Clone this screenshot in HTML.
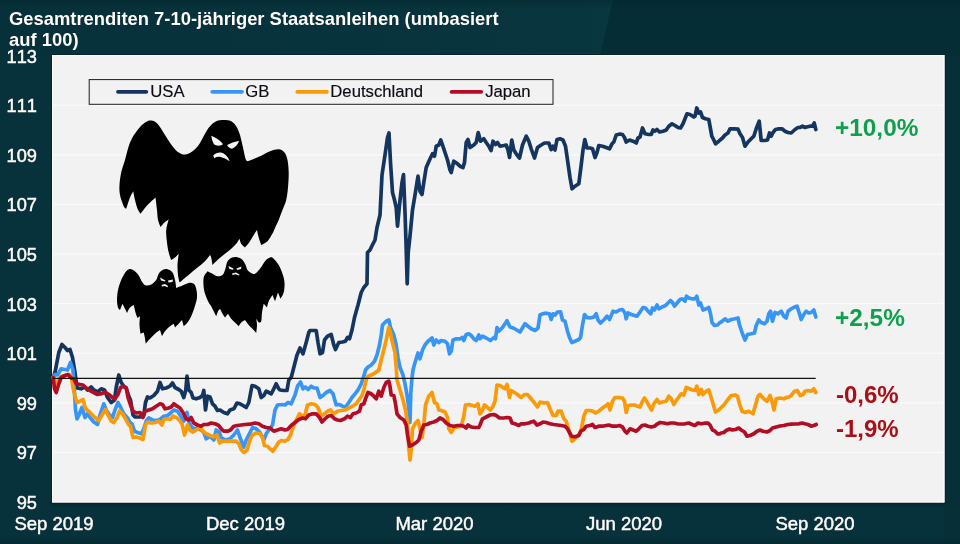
<!DOCTYPE html>
<html lang="de"><head><meta charset="utf-8"><title>Gesamtrenditen 7-10-jähriger Staatsanleihen</title>
<style>
html,body{margin:0;padding:0;background:#08303a;}
body{width:960px;height:544px;overflow:hidden;position:relative;font-family:"Liberation Sans",Arial,sans-serif;}
#bg{position:absolute;left:0;top:0;width:960px;height:544px;background:#07323b;}
svg{position:absolute;left:0;top:0;}
svg text{font-family:"Liberation Sans",Arial,sans-serif;font-kerning:none;}
.ttl{font-size:18.4px;font-weight:bold;fill:#fff;}
.sh{filter:drop-shadow(0.6px 0.8px 0.7px rgba(0,10,14,0.9));}
.ax{font-size:18.5px;fill:#fff;stroke:#fff;stroke-width:0.5px;font-kerning:none;}
.ay{font-size:18.2px;}
.lg{font-size:16.7px;fill:#0c0c14;stroke:#0c0c14;stroke-width:0.15px;}
.pc{font-size:24.4px;font-weight:bold;font-kerning:none;}
</style></head><body>
<div id="bg"></div>
<svg width="960" height="544" viewBox="0 0 960 544">
<defs>
<linearGradient id="gtl" x1="0" y1="0" x2="1" y2="0"><stop offset="0" stop-color="#07313a"/><stop offset="0.75" stop-color="#08343d"/><stop offset="1" stop-color="#08373f"/></linearGradient>
<linearGradient id="gtop" x1="0" y1="0" x2="0" y2="1"><stop offset="0" stop-color="#03262d" stop-opacity="0.55"/><stop offset="1" stop-color="#03262d" stop-opacity="0"/></linearGradient>
<linearGradient id="gbot" x1="0" y1="0" x2="0" y2="1"><stop offset="0" stop-color="#02232a" stop-opacity="0.8"/><stop offset="1" stop-color="#02232a" stop-opacity="0"/></linearGradient>
<linearGradient id="gbot2" x1="0" y1="0" x2="0" y2="1"><stop offset="0" stop-color="#03262d" stop-opacity="0"/><stop offset="1" stop-color="#03262d" stop-opacity="0.6"/></linearGradient>
</defs>
<polygon points="0,0 613,0 600,56 0,56" fill="url(#gtl)"/>
<polygon points="613,0 960,0 960,56 600,56" fill="#052d35"/>
<rect x="944" y="56" width="16" height="488" fill="#062f38"/>
<rect x="0" y="0" width="960" height="9" fill="url(#gtop)"/>
<rect x="50" y="502" width="896" height="5" fill="url(#gbot)"/>
<rect x="0" y="536" width="960" height="8" fill="url(#gbot2)"/>
<rect x="51" y="54" width="894.5" height="449.5" fill="#03252c"/>
<rect x="52" y="55" width="892.5" height="447.5" fill="#f2f2f2"/>
<line x1="52" x2="944" y1="452.45" y2="452.45" stroke="#fcfcfc" stroke-width="1"/><line x1="52" x2="944" y1="402.85" y2="402.85" stroke="#fcfcfc" stroke-width="1"/><line x1="52" x2="944" y1="353.25" y2="353.25" stroke="#fcfcfc" stroke-width="1"/><line x1="52" x2="944" y1="303.65" y2="303.65" stroke="#fcfcfc" stroke-width="1"/><line x1="52" x2="944" y1="254.05" y2="254.05" stroke="#fcfcfc" stroke-width="1"/><line x1="52" x2="944" y1="204.45" y2="204.45" stroke="#fcfcfc" stroke-width="1"/><line x1="52" x2="944" y1="154.85" y2="154.85" stroke="#fcfcfc" stroke-width="1"/><line x1="52" x2="944" y1="105.25" y2="105.25" stroke="#fcfcfc" stroke-width="1"/>
<rect x="52.5" y="55.5" width="891.5" height="446.5" fill="none" stroke="#fff" stroke-width="1"/>
<rect x="89.2" y="79.6" width="463.8" height="24.7" fill="#f2f2f2" stroke="#1c1c1c" stroke-width="1"/>
<g stroke-width="3.8" stroke-linecap="round">
<line x1="118" x2="146.3" y1="91.8" y2="91.8" stroke="#14355f"/>
<line x1="212.3" x2="242" y1="91.8" y2="91.8" stroke="#3796f5"/>
<line x1="297.3" x2="327" y1="91.8" y2="91.8" stroke="#fb9a08"/>
<line x1="451.6" x2="481.2" y1="91.8" y2="91.8" stroke="#b30d26"/>
</g>
<text x="150.3" y="97.2" class="lg">USA</text>
<text x="245.3" y="97.2" class="lg">GB</text>
<text x="330.3" y="97.2" class="lg">Deutschland</text>
<text x="485.2" y="97.2" class="lg">Japan</text>
<path d="M151.2,120.5 C153.3,120.7 155.2,121.3 157.5,123.7 C159.8,126.1 162.5,131.2 165.0,135.0 C167.5,138.8 170.2,143.3 172.5,146.2 C174.8,149.1 176.6,151.1 178.7,152.5 C180.8,153.9 182.7,154.7 185.0,154.5 C187.3,154.3 190.2,152.8 192.5,151.2 C194.8,149.6 196.6,147.9 198.7,145.0 C200.8,142.1 203.1,136.8 205.0,133.7 C206.9,130.6 208.1,128.3 210.0,126.2 C211.9,124.1 213.9,122.2 216.2,121.2 C218.5,120.2 221.2,120.0 223.7,120.0 C226.2,120.0 229.1,120.2 231.2,121.2 C233.3,122.2 234.7,123.9 236.2,126.2 C237.7,128.5 238.9,131.4 240.0,135.0 C241.1,138.6 242.1,143.6 243.0,147.5 C243.9,151.4 244.8,156.4 245.5,158.7 C246.2,161.0 247.1,160.7 247.5,161.2 C250.0,160.2 256.2,157.9 260.0,156.2 C263.8,154.5 266.9,152.4 270.0,151.2 C273.1,150.0 276.3,149.0 278.7,149.2 C281.1,149.4 283.0,150.7 284.5,152.5 C286.0,154.3 286.8,156.7 287.5,160.0 C288.2,163.3 288.6,167.9 288.7,172.5 C288.8,177.1 288.4,182.9 288.0,187.5 C287.6,192.1 287.1,196.2 286.2,200.0 C285.3,203.8 283.8,206.7 282.5,210.0 C281.2,213.3 279.9,217.0 278.7,220.0 C277.4,223.0 276.0,225.8 275.0,228.0 C274.0,230.2 273.8,231.3 272.5,233.5 C271.2,235.7 269.4,239.3 267.5,241.2 C265.6,243.1 262.5,244.2 261.2,245.0 C260.7,243.5 259.4,240.0 258.7,237.5 C258.0,235.0 257.3,231.5 257.0,230.0 C256.3,231.0 254.9,233.1 253.7,235.0 C252.5,236.9 251.4,239.1 250.0,241.2 C248.6,243.3 246.0,246.2 245.0,247.5 C244.2,246.7 242.1,245.2 241.2,243.7 C240.3,242.2 239.8,239.7 239.5,238.7 C238.8,239.7 237.6,242.0 236.2,243.7 C234.8,245.4 233.1,247.0 231.2,248.7 C229.3,250.4 227.3,251.8 225.0,253.7 C222.7,255.6 219.6,258.1 217.5,260.0 C215.4,261.9 213.5,264.0 212.5,265.0 C212.2,263.5 211.6,259.2 211.2,257.5 C210.8,255.8 210.2,255.5 210.0,255.0 C209.0,256.2 207.1,259.1 205.0,261.2 C202.9,263.3 200.0,265.4 197.5,267.5 C195.0,269.6 192.5,271.6 190.0,273.7 C187.5,275.8 184.2,278.5 182.5,280.0 C180.8,281.5 180.1,282.0 179.5,282.5 C179.2,281.0 178.3,277.9 178.0,275.0 C177.7,272.1 177.4,268.6 177.5,265.0 C177.6,261.4 178.5,256.0 178.7,253.7 C178.0,254.5 176.2,256.4 175.0,257.5 C173.8,258.6 172.0,259.5 171.2,260.0 C170.7,258.5 169.4,255.4 168.7,252.5 C168.0,249.6 167.4,246.2 167.0,242.5 C166.6,238.8 165.9,233.9 166.2,230.0 C166.5,226.1 168.2,221.4 168.7,219.2 C167.9,219.9 165.9,221.2 164.5,222.5 C163.1,223.8 161.3,226.1 160.5,227.0 C160.0,225.6 158.6,222.8 158.0,220.0 C157.4,217.2 157.4,213.8 157.0,210.0 C156.6,206.2 155.8,200.0 155.5,197.5 C153.9,199.0 150.0,202.3 147.5,205.0 C145.0,207.7 141.9,212.0 140.5,213.7 C139.9,212.7 138.4,211.0 137.5,208.7 C136.6,206.4 135.7,202.9 135.0,200.0 C134.3,197.1 133.6,193.0 133.2,191.2 C132.6,192.5 131.2,194.6 130.0,197.5 C128.8,200.4 127.0,206.5 126.2,208.7 C125.7,208.2 124.7,208.5 123.7,206.2 C122.7,203.9 120.7,198.5 120.0,195.0 C119.3,191.5 119.3,188.8 119.5,185.0 C119.7,181.2 120.3,176.7 121.2,172.5 C122.1,168.3 123.5,165.0 125.0,160.0 C126.5,155.0 127.9,147.5 130.0,142.5 C132.1,137.5 135.0,133.3 137.5,130.0 C140.0,126.7 142.7,124.1 145.0,122.5 C147.3,120.9 149.1,120.3 151.2,120.5 Z" fill="#000"/><path d="M131.2,269.2 C129.3,268.8 127.9,269.4 126.2,271.2 C124.5,273.0 122.6,276.9 121.2,280.0 C119.8,283.1 118.7,286.7 118.0,290.0 C117.3,293.3 117.0,297.1 117.0,300.0 C117.0,302.9 117.5,305.8 118.0,307.5 C118.5,309.2 119.6,309.5 120.0,310.0 L122.5,303.7 C123.0,304.7 124.2,307.1 125.0,308.7 C125.8,310.2 126.6,312.1 127.0,313.0 C127.6,311.9 128.9,308.8 130.0,307.5 C131.1,306.2 133.0,305.5 133.7,305.0 C134.1,306.5 134.9,310.3 135.5,312.5 C136.1,314.7 137.1,316.9 137.5,318.0 L140.0,316.2 C139.9,318.0 139.4,322.1 139.5,325.0 C139.6,327.9 140.3,332.0 140.5,333.7 L143.7,332.5 C144.0,333.7 144.7,336.8 145.0,338.7 C145.3,340.6 145.6,342.7 145.7,343.7 C146.6,342.7 148.4,340.4 150.0,338.7 C151.6,337.0 153.3,335.1 155.0,333.7 C156.7,332.2 159.0,330.7 160.0,330.0 L162.0,336.2 C162.6,335.2 163.7,332.9 165.0,331.2 C166.3,329.5 168.6,327.4 170.0,326.2 C171.4,324.9 173.0,324.2 173.7,323.7 L175.0,327.5 C175.7,326.7 177.5,324.9 178.7,323.7 C179.9,322.4 181.3,320.7 182.0,320.0 L183.7,326.2 C184.5,325.5 186.2,324.2 187.5,322.5 C188.8,320.8 190.0,318.7 191.2,316.2 C192.4,313.7 193.5,310.6 194.5,307.5 C195.5,304.4 196.7,300.6 197.0,297.5 C197.3,294.4 196.8,291.0 196.2,288.7 C195.6,286.4 194.9,284.6 193.7,283.7 C192.4,282.8 190.6,282.7 188.7,283.0 C186.8,283.3 184.6,284.7 182.5,285.5 C180.4,286.3 177.5,287.5 176.2,288.0 C176.0,286.4 175.6,282.6 175.0,280.0 C174.4,277.4 173.8,274.3 172.5,272.5 C171.2,270.7 169.2,269.6 167.5,269.2 C165.8,268.8 164.0,269.2 162.5,270.0 C161.0,270.8 159.8,272.0 158.7,273.7 C157.6,275.4 157.4,278.2 156.2,280.0 C154.9,281.8 152.9,283.6 151.2,284.5 C149.5,285.4 147.6,285.8 146.2,285.5 C144.8,285.2 143.9,284.5 142.5,282.5 C141.1,280.5 139.4,275.9 137.5,273.7 C135.6,271.5 133.1,269.6 131.2,269.2 Z" fill="#000"/><path d="M207.5,271.2 C206.7,272.5 204.3,274.8 203.7,277.5 C203.1,280.2 203.4,284.6 203.7,287.5 C204.0,290.4 204.7,292.5 205.5,295.0 C206.3,297.5 207.8,300.6 208.7,302.5 C209.6,304.4 210.4,304.8 211.2,306.2 C212.0,307.6 212.9,309.5 213.7,311.2 C214.5,312.9 215.7,315.2 216.2,316.2 C216.6,315.2 217.4,312.4 218.0,311.2 C218.6,309.9 219.6,309.2 220.0,308.7 C220.5,309.7 221.7,312.2 222.5,313.7 C223.3,315.2 224.5,316.7 225.0,317.5 L228.0,313.7 C228.6,314.7 230.0,317.2 231.2,318.7 C232.4,320.2 233.8,321.2 235.0,322.5 C236.2,323.8 238.0,325.5 238.7,326.2 C239.2,325.5 240.1,323.5 241.2,322.5 C242.2,321.5 244.2,320.5 245.0,320.0 C245.7,321.0 247.4,323.6 248.7,325.0 C249.9,326.4 251.2,327.4 252.5,328.7 C253.8,330.0 255.5,332.1 256.2,333.0 C256.4,331.4 257.0,327.4 257.0,325.0 C257.0,322.6 256.4,320.0 256.2,318.7 L258.7,322.5 C259.2,322.2 260.6,322.9 261.2,321.2 C261.8,319.5 261.6,315.4 262.0,312.5 C262.4,309.6 263.4,305.5 263.7,303.7 L267.0,307.5 C267.3,306.2 267.8,303.3 268.7,301.2 C269.6,299.1 271.7,296.2 272.5,295.0 L275.0,301.2 L278.0,292.5 L280.5,298.7 C281.1,297.5 283.0,295.2 283.7,292.5 C284.4,289.8 284.7,285.6 284.5,282.5 C284.3,279.4 283.5,276.6 282.5,273.7 C281.5,270.8 280.2,267.5 278.7,265.0 C277.2,262.5 275.1,259.9 273.7,258.7 C272.2,257.4 271.4,257.1 270.0,257.5 C268.6,257.9 266.7,259.3 265.0,261.2 C263.3,263.1 261.7,266.6 260.0,268.7 C258.3,270.8 256.5,273.0 255.0,273.7 C253.5,274.4 252.4,273.6 251.2,273.0 C249.9,272.4 248.5,271.6 247.5,270.0 C246.5,268.4 246.1,265.6 245.0,263.7 C243.9,261.8 242.9,259.8 241.2,258.7 C239.5,257.6 236.9,257.0 235.0,257.0 C233.1,257.0 231.3,257.8 230.0,258.7 C228.7,259.6 227.8,260.6 227.0,262.5 C226.2,264.4 225.8,267.9 225.0,270.0 C224.2,272.1 223.8,274.0 222.5,275.0 C221.2,276.0 219.2,276.4 217.5,276.2 C215.8,276.0 214.2,274.5 212.5,273.7 C210.8,272.9 208.5,271.7 207.5,271.2 Z" fill="#000"/><polygon points="160.0,277.5 165.5,280.5 165.0,281.5 161.0,280.5" fill="#f2f2f2"/><polygon points="168.0,280.5 173.0,279.5 172.5,282.0 168.5,282.5" fill="#f2f2f2"/><polygon points="161.5,285.0 165.0,284.0 168.0,286.0 167.5,287.3 164.5,286.0 162.0,286.5" fill="#f2f2f2"/><polygon points="228.5,266.0 233.5,268.5 233.0,269.8 229.5,269.0" fill="#f2f2f2"/><polygon points="236.5,268.5 241.5,266.5 241.0,269.0 237.0,270.0" fill="#f2f2f2"/><polygon points="232.0,273.5 236.0,272.5 239.5,274.5 239.0,275.5 235.5,274.3 232.5,275.0" fill="#f2f2f2"/><path fill="#f4f4f4" d="M211.3,135.8 Q218,138.3 222.6,143.6 L222.3,145 Q217,146.6 213.9,144.3 Q211.8,141 211.3,135.8 Z M239.2,140.7 Q232,142 227.1,145 Q228,147.9 232,148.7 Q236.6,147 239.2,140.7 Z M213.2,155.6 Q216,152.2 221,152.5 Q227,154 229.7,161.2 Q225,157.6 220.5,156.9 Q216.5,156.6 214.3,158.2 Z"/>
<polyline points="53.2,377.5 55.0,372.5 58.8,352.5 62.0,344.5 65.0,347.5 67.5,350.5 70.0,349.5 72.5,357.5 75.0,372.5 77.0,388.0 81.2,388.8 84.5,387.0 87.5,390.0 91.2,387.0 93.8,390.0 97.5,392.0 101.2,388.8 104.5,390.0 107.5,397.5 111.2,402.5 114.5,400.0 116.2,387.5 118.8,375.0 121.2,382.5 123.8,386.2 126.2,388.0 128.8,396.2 130.5,400.0 133.0,415.0 135.0,417.0 140.0,417.0 143.8,415.0 145.5,402.5 147.5,397.0 150.0,398.0 153.8,395.5 157.5,391.2 160.0,382.5 162.5,388.8 166.2,388.0 170.0,386.2 172.5,383.0 175.0,387.5 178.8,389.5 181.2,391.2 183.8,397.5 185.8,390.0 187.0,376.2 188.8,390.0 191.2,392.5 193.0,398.0 196.2,398.8 200.0,397.5 202.5,395.5 203.8,390.5 205.5,410.0 207.5,396.2 210.0,397.0 212.5,403.8 215.0,406.2 217.5,410.5 220.0,410.0 223.8,412.5 227.5,413.8 230.0,410.0 233.8,408.8 237.0,403.0 240.0,403.8 243.0,405.5 246.2,407.5 248.8,402.5 252.0,385.5 255.0,386.2 258.8,388.8 261.2,397.5 263.8,395.5 266.2,391.2 268.8,392.5 271.2,393.8 273.8,388.8 276.2,383.8 278.8,388.8 280.0,390.0 283.8,390.5 287.0,390.5 288.8,380.0 291.2,377.5 293.8,367.5 297.0,355.0 300.0,348.0 303.0,353.8 306.2,342.5 308.8,332.5 310.0,330.5 316.2,330.5 318.0,342.5 320.0,353.8 322.5,352.5 324.5,340.0 327.5,336.2 331.2,334.5 333.8,345.0 335.5,349.5 338.8,342.5 342.5,342.0 345.5,341.2 347.5,337.5 349.5,338.8 352.0,330.0 354.5,317.5 358.0,305.0 361.2,292.5 363.8,287.5 367.0,283.8 367.5,252.5 370.0,250.0 373.0,243.8 375.0,240.0 377.0,227.5 380.0,215.0 382.0,175.0 385.0,155.0 387.5,137.5 389.0,133.0 390.5,162.5 392.5,192.5 394.5,200.0 396.2,207.5 397.5,226.2 399.5,205.0 402.0,182.5 403.5,174.5 405.0,212.5 406.0,242.5 407.2,283.8 408.2,252.5 410.0,236.0 412.5,210.0 415.0,195.0 418.0,176.2 420.0,191.2 422.0,194.5 423.8,182.5 426.2,167.5 429.5,160.0 432.5,153.8 434.5,156.2 436.2,146.2 438.8,145.0 440.8,140.0 443.8,148.8 447.5,160.0 450.0,170.0 451.2,172.5 453.8,161.2 457.5,163.8 460.0,166.2 463.0,167.5 464.5,162.5 466.2,142.5 468.0,139.5 470.0,147.5 473.8,145.0 476.2,142.5 478.2,132.5 480.5,141.2 483.8,138.8 486.2,142.5 488.8,146.2 491.0,150.5 493.0,141.2 495.5,144.5 497.5,142.5 500.0,146.2 503.8,145.5 506.2,145.0 508.0,150.0 509.5,157.5 511.8,140.0 513.8,150.0 516.2,153.8 519.5,158.0 522.5,145.0 526.2,136.2 528.8,141.2 531.2,148.8 534.5,158.0 537.5,147.5 541.2,145.0 544.5,143.0 548.8,143.0 551.2,149.5 553.0,146.2 555.0,150.0 557.0,139.5 560.0,138.8 563.0,140.0 565.5,146.2 567.5,160.0 570.0,177.5 572.0,188.8 575.0,186.2 578.8,183.8 581.2,165.0 583.0,150.0 584.8,139.5 587.0,148.0 590.0,148.0 592.5,148.8 595.0,157.5 597.0,152.5 598.8,145.5 602.5,146.2 606.2,147.5 609.5,148.8 612.0,143.8 613.8,142.0 616.2,135.0 620.0,134.0 622.5,134.5 624.5,137.5 626.2,142.0 629.5,140.0 633.0,141.2 636.2,143.0 638.0,138.0 640.0,137.0 642.5,128.0 645.0,133.8 648.8,134.5 651.2,134.5 653.0,130.0 655.0,131.2 657.0,129.5 659.5,132.0 663.0,131.2 666.2,130.0 668.8,126.2 672.0,123.8 675.0,125.5 678.0,127.5 680.5,128.0 683.0,123.8 685.0,118.8 687.0,113.8 690.0,114.5 693.8,117.0 695.0,116.2 696.8,108.0 698.8,113.0 700.5,112.0 702.5,117.5 705.5,118.8 708.8,119.5 710.0,126.2 711.8,136.2 713.8,140.0 715.5,143.8 718.8,141.2 722.5,138.0 725.0,135.0 728.0,133.0 730.0,128.8 733.8,128.8 738.0,129.2 740.0,133.8 742.5,137.5 745.0,146.2 748.0,142.0 751.2,138.8 753.8,136.2 756.2,128.8 759.2,121.2 761.2,140.5 765.0,140.5 767.5,140.0 769.5,133.0 771.2,136.2 773.0,132.5 775.5,129.5 778.8,128.8 782.0,128.8 785.0,131.2 788.0,132.5 791.2,133.0 795.0,129.5 798.0,127.5 800.0,127.5 802.5,126.2 805.0,127.5 807.5,126.8 810.0,126.2 812.5,126.2 814.2,123.0 815.8,129.5" fill="none" stroke="#14355f" stroke-width="3.7" stroke-linejoin="round" stroke-linecap="round"/>
<polyline points="53.2,377.5 55.0,374.5 57.5,375.0 61.2,368.8 65.0,369.5 67.5,370.0 70.5,362.5 73.0,370.0 74.5,392.5 75.5,410.0 77.0,418.8 79.5,413.8 82.0,407.5 85.0,417.5 87.5,413.8 90.0,417.5 93.8,422.0 97.5,424.5 100.0,415.0 103.8,403.8 106.2,410.0 109.5,415.0 112.5,417.5 115.0,410.0 118.0,402.5 120.0,406.2 123.8,413.8 127.5,418.0 130.0,422.5 132.0,423.8 134.5,431.2 137.5,432.5 141.2,433.8 143.8,428.8 146.2,421.2 148.8,418.0 152.5,420.0 156.2,420.5 160.0,419.5 163.8,416.2 167.5,415.5 171.2,412.5 173.8,410.0 177.5,411.2 180.0,415.0 183.8,421.2 187.0,412.5 188.8,421.2 191.2,426.2 193.8,428.8 197.5,428.0 201.2,430.0 203.8,432.5 206.2,438.8 210.0,436.2 213.8,440.0 216.2,430.0 219.5,432.5 221.2,437.5 225.0,440.0 230.0,438.8 233.8,435.0 237.5,430.0 240.0,437.5 243.8,447.0 246.2,440.0 250.0,432.5 252.5,427.5 256.2,428.8 260.0,432.5 263.8,440.0 266.2,433.8 268.8,430.0 272.5,425.0 275.0,410.0 277.5,405.0 282.5,404.5 285.0,405.0 288.0,402.5 291.2,403.8 295.0,395.0 297.5,386.2 300.5,382.0 303.0,388.8 305.5,387.0 308.0,389.5 311.2,386.2 313.8,388.0 317.0,388.0 320.0,397.5 323.0,395.5 326.2,392.5 330.0,390.5 333.0,393.8 336.2,405.0 339.5,404.5 342.5,406.2 345.5,407.0 348.8,402.5 352.0,397.5 355.0,393.8 358.0,390.0 361.2,383.8 363.8,376.2 365.5,370.0 368.0,367.0 371.2,365.0 374.5,361.2 377.0,355.0 379.5,345.0 381.2,335.0 382.5,325.0 386.2,321.2 388.8,320.0 390.5,327.5 393.8,335.0 396.2,345.0 398.0,357.5 400.0,367.5 403.0,375.0 405.0,383.8 407.0,395.0 408.8,407.5 410.0,422.5 410.8,392.5 411.8,380.0 413.0,370.0 415.0,362.5 418.0,353.0 420.0,358.8 422.5,350.0 425.0,345.0 428.0,341.2 432.0,338.0 433.8,345.0 436.2,340.0 438.8,342.5 441.2,340.5 445.0,341.2 447.5,343.8 449.5,353.8 451.2,351.2 453.0,340.0 456.2,338.8 460.0,338.8 462.5,337.5 463.8,340.5 466.2,334.5 468.8,333.8 471.2,335.5 473.8,338.8 476.2,340.5 478.8,335.0 480.0,338.8 482.5,336.2 486.2,338.0 490.5,340.5 493.8,337.5 495.5,338.8 497.0,327.5 498.8,331.2 502.5,327.5 505.0,323.8 507.0,320.8 510.0,327.0 513.8,328.2 517.5,330.5 520.0,332.0 523.0,327.0 525.0,323.8 528.0,326.2 531.2,328.8 535.0,330.5 538.0,328.0 540.0,315.0 542.5,313.8 546.2,313.2 549.5,313.8 551.2,319.5 553.0,313.8 555.0,315.0 557.5,312.0 560.5,311.8 562.5,320.0 565.0,321.2 567.5,331.2 569.5,337.5 571.8,342.5 575.0,341.2 578.8,339.5 580.5,337.5 582.5,325.0 584.5,314.5 587.0,317.5 590.0,318.0 593.8,317.0 596.2,313.8 598.0,320.0 600.5,323.0 603.8,320.0 607.0,316.2 609.5,319.5 613.0,311.2 616.2,312.0 619.5,310.0 622.5,309.5 625.0,313.0 626.2,318.8 628.0,313.0 631.2,314.5 634.5,315.5 637.0,316.2 640.0,312.0 643.0,307.5 645.5,308.0 648.0,311.2 650.8,313.8 652.5,308.0 654.5,310.0 657.0,305.0 658.8,308.8 662.0,307.0 665.0,305.8 668.0,303.0 670.5,300.5 672.5,302.5 674.5,306.2 677.5,302.5 680.0,299.5 682.5,298.8 685.0,301.2 686.5,296.2 688.8,298.0 692.0,298.8 695.0,298.8 696.8,296.2 698.8,305.0 700.5,303.0 703.0,310.0 706.2,308.8 708.8,307.5 710.5,313.8 712.0,322.5 714.5,325.5 717.5,325.0 720.0,322.5 721.2,322.0 725.0,318.8 728.0,321.2 731.2,319.5 735.0,318.8 738.0,318.0 739.5,325.0 742.0,332.5 745.0,340.0 747.5,334.5 751.2,333.8 754.5,333.0 756.2,325.5 758.8,320.0 761.2,322.5 764.5,323.8 767.0,321.2 768.8,313.8 770.5,311.2 772.5,321.2 775.0,312.5 778.0,313.8 781.2,311.2 783.8,316.2 786.2,318.0 788.0,311.2 791.2,308.8 794.5,307.0 797.0,306.2 799.5,313.8 801.2,319.5 803.8,314.5 806.2,311.2 808.8,313.0 811.2,312.5 813.8,310.0 815.8,317.0" fill="none" stroke="#3796f5" stroke-width="3.7" stroke-linejoin="round" stroke-linecap="round"/>
<polyline points="53.2,377.5 55.0,383.8 57.5,381.2 61.2,376.2 65.0,375.5 68.8,374.5 71.2,376.2 73.0,387.5 75.0,396.2 77.0,402.5 80.0,401.2 83.0,399.5 85.5,408.8 88.8,411.2 91.2,413.8 95.0,417.5 98.8,420.5 102.0,415.0 105.5,409.5 108.0,415.0 111.2,421.2 113.8,422.5 117.0,417.5 119.5,411.2 122.5,413.8 126.2,420.0 128.8,425.0 130.5,426.2 133.0,437.5 136.2,437.0 140.0,438.0 143.0,439.5 145.5,425.0 147.5,422.0 151.2,423.0 155.0,422.5 158.8,421.2 162.0,425.0 163.8,419.5 167.5,418.8 170.0,419.5 173.0,416.2 176.2,417.5 179.5,420.5 182.0,423.8 184.5,435.0 187.5,425.0 190.0,430.0 192.5,432.0 196.2,430.0 200.0,427.5 203.8,432.0 206.2,433.8 210.0,435.5 213.8,437.0 217.0,435.0 219.5,443.0 222.5,441.2 227.5,441.2 232.5,441.2 236.2,441.2 238.8,443.8 241.2,449.5 243.8,452.5 247.0,450.0 250.0,440.0 252.5,435.0 256.2,433.0 260.0,433.8 262.5,437.5 264.5,445.5 267.5,446.2 270.0,448.8 273.0,451.2 276.2,446.2 278.8,442.0 281.2,440.5 285.0,441.2 288.0,439.5 290.5,435.0 293.0,427.5 296.2,420.0 299.5,413.8 302.5,416.2 305.0,415.0 307.5,405.0 311.2,403.8 315.0,404.5 318.0,407.5 321.2,416.2 324.5,413.8 327.5,411.2 330.5,410.0 333.8,413.8 337.5,411.2 341.2,410.5 345.0,410.0 348.8,408.0 352.5,406.2 356.2,403.8 358.8,400.0 362.0,395.5 363.8,390.0 366.2,380.0 368.0,376.2 371.2,375.0 375.0,373.0 378.8,370.0 381.2,360.0 383.8,350.0 386.2,340.0 388.8,327.5 390.0,331.2 392.5,342.5 395.0,352.5 396.2,367.5 397.0,380.0 400.0,390.0 403.0,400.0 405.5,410.0 407.5,422.5 408.8,447.5 410.0,460.0 411.2,450.0 412.5,428.8 415.0,423.8 418.0,420.5 420.0,428.8 422.0,437.5 423.8,425.0 425.5,405.0 428.8,396.2 432.0,392.5 434.5,402.5 437.0,403.8 438.8,410.0 441.2,410.5 445.0,412.0 447.5,417.5 448.8,428.8 451.2,432.5 454.5,427.5 457.5,427.0 461.2,426.2 463.8,416.2 465.5,405.0 468.8,404.5 472.5,405.5 475.0,406.2 478.0,403.8 480.0,413.8 482.0,411.2 484.5,405.0 487.5,407.5 490.5,410.0 493.0,406.2 495.0,401.2 497.0,385.0 500.0,385.5 503.0,387.5 505.0,388.8 507.0,384.5 509.5,397.5 511.2,390.5 514.5,392.5 517.5,394.5 521.2,397.5 524.5,394.5 527.5,394.5 531.2,398.8 534.5,403.0 537.5,407.0 540.0,402.0 543.8,403.0 547.5,402.5 550.0,408.8 553.0,415.5 556.2,415.5 558.0,411.2 561.2,411.2 563.8,418.8 566.2,421.2 568.8,430.0 572.0,441.2 575.0,438.8 578.8,435.0 581.2,430.0 583.8,416.2 586.2,410.5 590.0,410.5 593.0,411.2 595.5,413.0 598.8,411.2 602.5,408.0 606.2,405.5 608.0,403.8 610.0,410.0 612.5,401.2 615.0,397.5 618.8,397.5 622.5,398.0 624.5,401.2 626.2,412.5 628.0,405.5 631.2,405.0 634.5,405.0 637.5,406.2 640.0,407.0 642.5,401.2 644.5,398.0 647.0,402.0 650.0,407.5 651.5,410.0 653.8,403.8 657.0,399.5 659.5,403.0 662.5,402.0 666.2,401.2 668.8,396.2 671.2,398.8 673.8,404.5 677.5,398.8 681.2,393.8 683.8,395.0 686.2,387.5 689.5,388.8 692.5,390.0 695.0,390.5 696.8,386.2 698.8,394.5 701.2,389.5 703.0,394.5 706.2,391.2 708.8,390.0 711.2,397.5 713.8,406.2 715.5,412.0 718.0,410.5 720.0,408.8 723.8,405.0 727.5,400.0 731.2,395.5 735.0,395.0 737.5,396.2 739.5,403.8 742.0,411.2 745.0,412.5 748.8,411.2 753.0,413.8 755.5,405.0 758.0,396.2 760.0,394.5 763.8,398.8 767.0,401.2 770.0,395.5 772.0,401.2 774.0,410.0 776.2,398.8 780.0,398.0 783.8,398.8 786.2,397.5 788.8,397.0 791.2,395.5 794.5,391.2 797.5,390.5 800.0,395.5 803.0,394.5 805.0,391.2 808.0,390.5 811.2,391.2 813.8,388.8 815.8,392.5" fill="none" stroke="#fb9a08" stroke-width="3.7" stroke-linejoin="round" stroke-linecap="round"/>
<polyline points="53.2,377.5 54.5,388.8 56.2,392.5 58.8,383.8 61.2,377.5 65.0,375.5 68.0,374.5 71.2,378.0 73.8,378.8 76.2,383.8 80.0,384.5 83.0,385.0 86.2,388.0 90.0,390.5 93.8,392.5 97.5,394.5 101.2,393.8 105.0,392.0 108.8,394.5 112.5,397.5 115.0,398.8 118.0,394.5 120.5,387.5 123.8,386.2 126.2,388.0 128.0,397.5 130.5,405.0 133.0,411.2 136.2,413.0 140.0,412.5 143.0,417.5 145.0,411.2 148.8,410.0 152.5,408.8 156.2,406.2 160.0,403.8 162.5,404.5 165.0,408.8 168.8,408.0 171.2,407.0 173.8,403.8 177.0,406.2 180.0,408.0 183.0,412.5 186.2,418.8 188.8,420.0 191.2,417.5 193.8,423.0 197.5,425.0 201.2,426.2 203.8,424.5 207.5,424.5 211.2,423.0 215.0,423.8 218.8,425.5 221.2,428.8 223.8,431.2 227.5,431.2 230.5,430.0 233.8,426.2 237.5,425.5 241.2,425.0 245.0,424.5 250.0,424.2 255.0,423.0 258.8,423.8 262.5,426.2 266.2,427.5 270.0,428.0 273.8,431.2 277.5,430.0 281.2,428.8 285.0,430.0 287.5,429.5 291.2,425.5 295.0,422.5 298.8,419.5 302.5,418.0 305.5,418.8 308.8,415.0 312.5,413.8 316.2,413.8 319.5,417.5 322.0,422.0 325.0,418.8 328.0,416.2 331.2,415.5 334.5,418.8 337.5,420.0 340.5,420.5 344.5,418.8 347.5,416.2 350.5,417.5 353.0,413.8 356.2,413.0 359.5,411.2 361.2,405.0 363.8,403.8 365.5,398.8 368.0,392.5 371.2,393.8 373.8,396.2 376.2,398.8 378.8,391.2 381.2,396.2 383.8,387.5 386.2,382.5 388.8,381.2 390.0,386.2 391.2,395.0 393.8,395.5 395.5,403.8 397.0,413.8 400.0,417.5 403.8,420.0 406.2,425.0 407.5,435.0 409.5,446.2 412.5,445.0 416.2,442.5 418.8,440.0 421.2,431.2 423.8,425.0 427.0,424.5 430.0,423.0 433.8,422.0 437.0,420.5 440.0,418.0 443.0,419.5 446.2,423.0 450.0,425.5 453.8,426.2 457.5,425.5 461.2,425.5 463.8,426.2 466.2,428.0 468.0,425.0 471.2,427.0 475.0,427.5 478.8,427.5 480.0,425.0 482.5,418.8 486.2,417.0 490.0,415.0 493.8,414.5 496.2,415.5 499.5,418.0 503.8,418.0 507.0,417.5 510.0,418.0 512.0,423.0 515.0,423.8 518.8,425.5 521.2,423.8 525.0,423.8 528.8,423.0 531.2,422.0 533.8,421.2 537.0,425.0 540.0,423.8 543.0,422.0 546.2,422.5 550.0,423.8 553.8,424.5 557.5,425.0 561.2,425.5 565.0,426.2 567.5,428.8 569.5,432.5 571.5,436.2 575.0,436.8 578.8,435.5 580.8,431.2 583.8,429.5 586.2,426.2 590.0,425.5 592.5,424.5 595.0,427.5 598.8,426.2 602.5,426.2 606.2,425.5 608.8,425.0 612.5,426.2 616.2,426.2 619.5,425.5 622.5,427.0 625.0,431.2 626.8,433.0 630.0,428.8 633.0,430.0 636.2,431.2 638.8,428.8 642.0,425.5 645.0,425.0 648.0,426.2 651.2,427.0 654.5,426.2 657.5,423.8 660.0,422.5 663.8,423.0 667.5,423.8 670.5,423.0 673.8,423.0 677.5,423.8 681.2,424.0 685.0,423.8 688.8,423.0 692.0,424.5 695.0,425.5 698.0,423.0 701.2,423.8 704.5,423.2 708.0,423.0 710.0,425.0 712.5,430.0 715.0,431.2 717.5,433.8 720.0,433.8 721.2,433.0 723.8,432.5 726.2,430.5 729.5,429.0 732.5,430.0 735.5,429.5 738.8,428.0 741.2,430.0 744.5,432.0 747.0,436.2 750.0,435.5 753.8,433.8 757.0,431.2 760.0,430.0 763.0,431.2 767.0,432.0 770.0,430.5 772.5,428.0 776.2,427.0 780.0,426.0 783.8,425.5 787.5,424.5 791.2,424.2 795.0,424.0 798.8,423.8 802.0,423.0 805.0,423.8 808.0,424.5 811.2,426.2 813.8,425.5 816.2,424.5" fill="none" stroke="#b30d26" stroke-width="3.7" stroke-linejoin="round" stroke-linecap="round"/>
<line x1="52.5" x2="815.7" y1="378.3" y2="378.3" stroke="#111" stroke-width="1.2"/>
<text x="835" y="136.2" class="pc" fill="#0ea04c">+10,0%</text>
<text x="835" y="325.5" class="pc" fill="#0ea04c">+2,5%</text>
<text x="836" y="402.5" class="pc" style="font-size:24px" fill="#a80f16">-0,6%</text>
<text x="836" y="436.6" class="pc" style="font-size:24px" fill="#a80f16">-1,9%</text>
<g class="sh"><text x="9" y="24.6" class="ttl">Gesamtrenditen 7-10-jähriger Staatsanleihen (umbasiert</text>
<text x="9" y="45.5" class="ttl">auf 100)</text>
<text x="36.9" y="509.1" text-anchor="end" class="ax ay">95</text><text x="36.9" y="459.4" text-anchor="end" class="ax ay">97</text><text x="36.9" y="409.9" text-anchor="end" class="ax ay">99</text><text x="36.9" y="360.2" text-anchor="end" class="ax ay">101</text><text x="36.9" y="310.6" text-anchor="end" class="ax ay">103</text><text x="36.9" y="261.1" text-anchor="end" class="ax ay">105</text><text x="36.9" y="211.4" text-anchor="end" class="ax ay">107</text><text x="36.9" y="161.8" text-anchor="end" class="ax ay">109</text><text x="36.9" y="112.2" text-anchor="end" class="ax ay">111</text><text x="36.9" y="62.6" text-anchor="end" class="ax ay">113</text>
<text x="54" y="530.2" text-anchor="middle" class="ax">Sep 2019</text><text x="245.5" y="530.2" text-anchor="middle" class="ax">Dec 2019</text><text x="434.5" y="530.2" text-anchor="middle" class="ax">Mar 2020</text><text x="624" y="530.2" text-anchor="middle" class="ax">Jun 2020</text><text x="815" y="530.2" text-anchor="middle" class="ax">Sep 2020</text></g>
</svg>
</body></html>
